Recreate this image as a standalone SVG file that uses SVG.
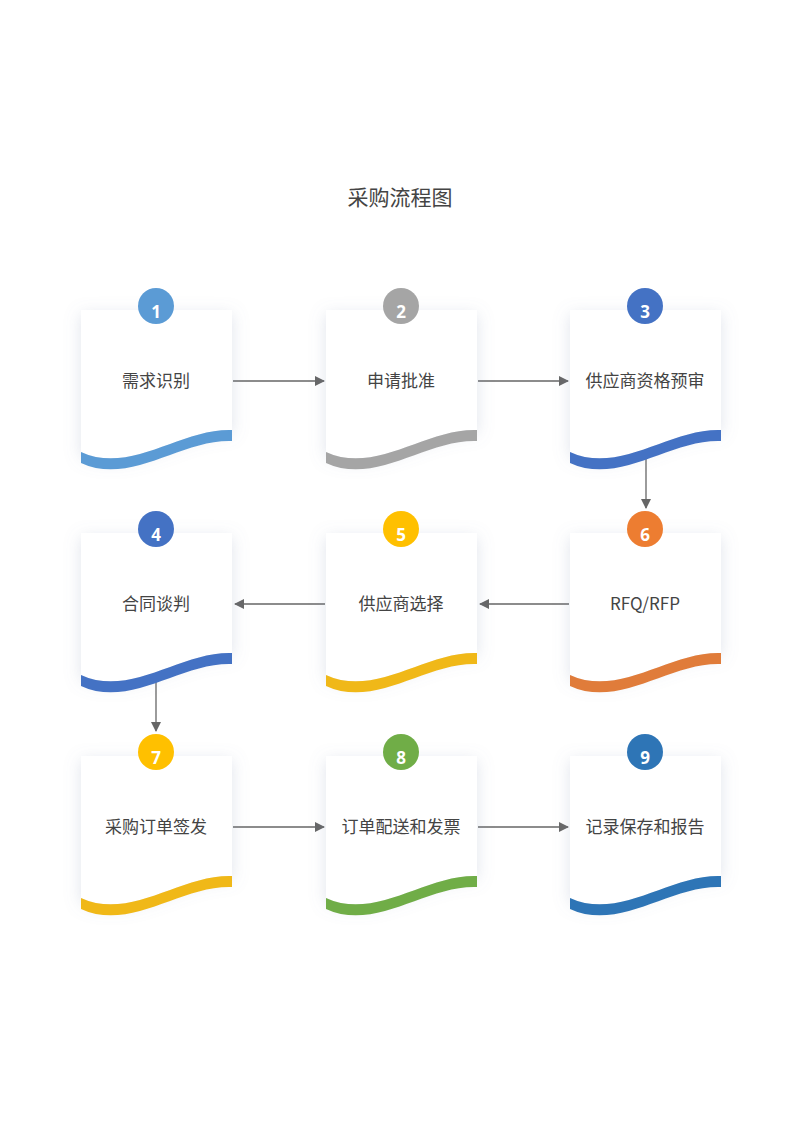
<svg xmlns="http://www.w3.org/2000/svg" width="800" height="1131" viewBox="0 0 800 1131">
<defs>
<filter id="sh" x="-30%" y="-30%" width="160%" height="160%"><feDropShadow dx="0" dy="4" stdDeviation="8" flood-color="#8090b0" flood-opacity="0.25"/></filter>
<marker id="ar" markerWidth="10" markerHeight="10" refX="9" refY="5" orient="auto" markerUnits="userSpaceOnUse"><path d="M0,0 L10,5 L0,10 Z" fill="#666"/></marker>
<g id="card"><path d="M0,0 H151 V120 C100,118 50,165 0,142 Z" fill="#fff" filter="url(#sh)"/></g>
</defs>
<style>
.t{font-family:"Noto Sans CJK SC","Noto Sans",sans-serif;font-size:17px;fill:#444;text-anchor:middle}
.n{font-family:"Open Sans","Noto Sans",sans-serif;font-size:17px;font-weight:bold;fill:#fff;text-anchor:middle}
.c{stroke:#666;stroke-width:1.3;fill:none;marker-end:url(#ar)}
.w{d:path("M0,142 C50,165 100,118 151,120 L151,131 C100,129 50,176 0,153 Z")}
</style>
<rect width="800" height="1131" fill="#fff"/>
<text x="400" y="205" class="t" style="font-size:21px">采购流程图</text>
<g id="connectors">
<line x1="233" y1="381" x2="324" y2="381" class="c"/>
<line x1="478" y1="381" x2="568" y2="381" class="c"/>
<line x1="646" y1="455" x2="646" y2="508" class="c"/>
<line x1="569" y1="604" x2="480" y2="604" class="c"/>
<line x1="325" y1="604" x2="235" y2="604" class="c"/>
<line x1="156" y1="678" x2="156" y2="731" class="c"/>
<line x1="233" y1="827" x2="324" y2="827" class="c"/>
<line x1="478" y1="827" x2="568" y2="827" class="c"/>
</g>
<g id="n1" transform="translate(81,310)"><use href="#card"/><path d="M0,142 C50,165 100,118 151,120 L151,131 C100,129 50,176 0,153 Z" fill="#5b9bd5"/><circle cx="75" cy="-4" r="18" fill="#5b9bd5"/><text x="75" y="8" class="n">1</text><text x="75" y="77" class="t">需求识别</text></g>
<g id="n2" transform="translate(326,310)"><use href="#card"/><path d="M0,142 C50,165 100,118 151,120 L151,131 C100,129 50,176 0,153 Z" fill="#a5a5a5"/><circle cx="75" cy="-4" r="18" fill="#a5a5a5"/><text x="75" y="8" class="n">2</text><text x="75" y="77" class="t">申请批准</text></g>
<g id="n3" transform="translate(570,310)"><use href="#card"/><path d="M0,142 C50,165 100,118 151,120 L151,131 C100,129 50,176 0,153 Z" fill="#4472c4"/><circle cx="75" cy="-4" r="18" fill="#4472c4"/><text x="75" y="8" class="n">3</text><text x="75" y="77" class="t">供应商资格预审</text></g>
<g id="n4" transform="translate(81,533)"><use href="#card"/><path d="M0,142 C50,165 100,118 151,120 L151,131 C100,129 50,176 0,153 Z" fill="#4472c4"/><circle cx="75" cy="-4" r="18" fill="#4472c4"/><text x="75" y="8" class="n">4</text><text x="75" y="77" class="t">合同谈判</text></g>
<g id="n5" transform="translate(326,533)"><use href="#card"/><path d="M0,142 C50,165 100,118 151,120 L151,131 C100,129 50,176 0,153 Z" fill="#f0b818"/><circle cx="75" cy="-4" r="18" fill="#ffc000"/><text x="75" y="8" class="n">5</text><text x="75" y="77" class="t">供应商选择</text></g>
<g id="n6" transform="translate(570,533)"><use href="#card"/><path d="M0,142 C50,165 100,118 151,120 L151,131 C100,129 50,176 0,153 Z" fill="#e07c3a"/><circle cx="75" cy="-4" r="18" fill="#ed7d31"/><text x="75" y="8" class="n">6</text><text x="75" y="77" class="t">RFQ/RFP</text></g>
<g id="n7" transform="translate(81,756)"><use href="#card"/><path d="M0,142 C50,165 100,118 151,120 L151,131 C100,129 50,176 0,153 Z" fill="#f0b818"/><circle cx="75" cy="-4" r="18" fill="#ffc000"/><text x="75" y="8" class="n">7</text><text x="75" y="77" class="t">采购订单签发</text></g>
<g id="n8" transform="translate(326,756)"><use href="#card"/><path d="M0,142 C50,165 100,118 151,120 L151,131 C100,129 50,176 0,153 Z" fill="#70ad47"/><circle cx="75" cy="-4" r="18" fill="#70ad47"/><text x="75" y="8" class="n">8</text><text x="75" y="77" class="t">订单配送和发票</text></g>
<g id="n9" transform="translate(570,756)"><use href="#card"/><path d="M0,142 C50,165 100,118 151,120 L151,131 C100,129 50,176 0,153 Z" fill="#2e75b6"/><circle cx="75" cy="-4" r="18" fill="#2e75b6"/><text x="75" y="8" class="n">9</text><text x="75" y="77" class="t">记录保存和报告</text></g>
</svg>
